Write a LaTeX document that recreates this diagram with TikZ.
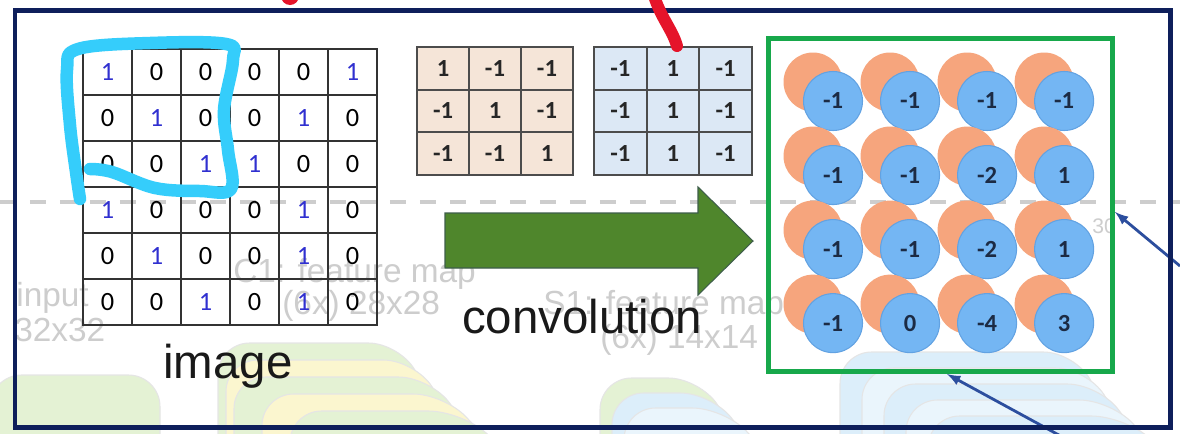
\documentclass[tikz,border=0pt]{standalone}
\usepackage{fontspec}
\setsansfont{Liberation Sans}
\newfontfamily\digitfont{Carlito}
\usetikzlibrary{positioning}

\definecolor{framenavy}{HTML}{0E1F5B}
\definecolor{boxgreen}{HTML}{17A84B}
\definecolor{onesblue}{HTML}{3030D0}
\definecolor{peach}{HTML}{F5E5D8}
\definecolor{icyblue}{HTML}{DCE8F5}
\definecolor{arrowgreen}{HTML}{4F862C}
\definecolor{arrowedge}{HTML}{3E5E4A}
\definecolor{dotblue}{HTML}{74B6F3}
\definecolor{dotedge}{HTML}{62A2E2}
\definecolor{dotorange}{HTML}{F6A57D}
\definecolor{digitnavy}{HTML}{1C2B44}
\definecolor{marker}{HTML}{35CDFB}
\definecolor{markred}{HTML}{E5142A}
\definecolor{linkblue}{HTML}{2C4E9E}
\definecolor{fadegray}{HTML}{CDCDCD}
\definecolor{layergreen}{HTML}{E4F2D4}
\definecolor{layeryellow}{HTML}{FBF6CF}
\definecolor{layerblue}{HTML}{DCEEFA}

\begin{document}
\begin{tikzpicture}[x=0.02cm, y=-0.02cm,
    cell/.style = {draw=black!80, line width=1.1pt, minimum width=0.98cm, minimum height=0.92cm,
        inner sep=0pt, outer sep=0pt, font=\digitfont\fontsize{15}{17}\selectfont},
    one/.style = {cell, text=onesblue},
    tapA/.style = {draw=black!70, line width=1.1pt, fill=peach, minimum width=1.04cm, minimum height=0.853cm,
        inner sep=0pt, outer sep=0pt, font=\digitfont\fontsize{14}{16}\selectfont\bfseries, text=black!85},
    tapB/.style = {tapA, fill=icyblue, minimum width=1.053cm},
    dot/.style = {circle, fill=dotblue, draw=dotedge, line width=0.6pt, minimum size=1.18cm, inner sep=0pt,
        font=\digitfont\fontsize{14}{16}\selectfont\bfseries, text=digitnavy,
        preaction={fill=dotorange, draw=none, transform canvas={shift={(-0.4cm,0.38cm)}}}},
    fade/.style = {text=fadegray, font=\sffamily\fontsize{19}{21}\selectfont, inner sep=0pt},
    word/.style = {font=\sffamily\fontsize{27}{30}\selectfont, text=black!90, inner sep=0pt},
    layer/.style = {draw=black!10, line width=0.6pt, rounded corners=18},
    link/.style = {-latex, draw=linkblue, line width=1.6pt}]

    \useasboundingbox[fill=white] (0,0) rectangle (1180,433);

    % faded network drawing in the background
    \filldraw[layer, fill=layergreen] (-10,470) -- (-10,375) -- (160,375) -- (160,470);
    \filldraw[layer, fill=layergreen] (218,470) -- (218,343) -- (400,343) -- (470,470);
    \filldraw[layer, fill=layeryellow] (226,470) -- (226,360) -- (415,360) -- (485,470);
    \filldraw[layer, fill=layergreen] (234,470) -- (234,377) -- (430,377) -- (500,470);
    \filldraw[layer, fill=layeryellow] (262,470) -- (262,394) -- (445,394) -- (515,470);
    \filldraw[layer, fill=layergreen] (290,470) -- (290,411) -- (460,411) -- (530,470);
    \filldraw[layer, fill=layergreen] (600,470) -- (600,378) -- (700,378) -- (760,470);
    \filldraw[layer, fill=layerblue] (612,470) -- (612,393) -- (712,393) -- (772,470);
    \filldraw[layer, fill=layerblue!60] (624,470) -- (624,408) -- (724,408) -- (784,470);
    \filldraw[layer, fill=layerblue] (840,470) -- (840,352) -- (1075,352) -- (1140,470);
    \filldraw[layer, fill=layerblue!60] (862,470) -- (862,368) -- (1087,368) -- (1152,470);
    \filldraw[layer, fill=layerblue] (884,470) -- (884,384) -- (1099,384) -- (1164,470);
    \filldraw[layer, fill=layerblue!60] (906,470) -- (906,400) -- (1111,400) -- (1176,470);
    \filldraw[layer, fill=layerblue] (928,470) -- (928,416) -- (1123,416) -- (1188,470);

    \node[fade, anchor=west] (t1) at (16,298) {input};
    \node[fade, anchor=west] (t2) at (14,330) {32x32};
    \node[fade, anchor=west] (t3) at (233,274) {C1: feature map};
    \node[fade, anchor=west] (t4) at (282,306) {(6x) 28x28};
    \node[fade, anchor=west] (t5) at (543,306) {S1: feature map};
    \node[fade, anchor=west] (t6) at (600,340) {(6x) 14x14};
    \node[fade, anchor=west, font=\sffamily\fontsize{12}{14}\selectfont] (t7) at (1092,226) {30};

    \draw[fadegray, line width=2.2pt, dash pattern=on 0.32cm off 0.28cm] (0,202) -- (1180,202);

    % input image
    \node[one] (i11) at (107.5,72) {1};
    \node[cell] (i12) [right=0pt of i11] {0};
    \node[cell] (i13) [right=0pt of i12] {0};
    \node[cell] (i14) [right=0pt of i13] {0};
    \node[cell] (i15) [right=0pt of i14] {0};
    \node[one] (i16) [right=0pt of i15] {1};

    \node[cell] (i21) [below=0pt of i11] {0};
    \node[one] (i22) [right=0pt of i21] {1};
    \node[cell] (i23) [right=0pt of i22] {0};
    \node[cell] (i24) [right=0pt of i23] {0};
    \node[one] (i25) [right=0pt of i24] {1};
    \node[cell] (i26) [right=0pt of i25] {0};

    \node[cell] (i31) [below=0pt of i21] {0};
    \node[cell] (i32) [right=0pt of i31] {0};
    \node[one] (i33) [right=0pt of i32] {1};
    \node[one] (i34) [right=0pt of i33] {1};
    \node[cell] (i35) [right=0pt of i34] {0};
    \node[cell] (i36) [right=0pt of i35] {0};

    \node[one] (i41) [below=0pt of i31] {1};
    \node[cell] (i42) [right=0pt of i41] {0};
    \node[cell] (i43) [right=0pt of i42] {0};
    \node[cell] (i44) [right=0pt of i43] {0};
    \node[one] (i45) [right=0pt of i44] {1};
    \node[cell] (i46) [right=0pt of i45] {0};

    \node[cell] (i51) [below=0pt of i41] {0};
    \node[one] (i52) [right=0pt of i51] {1};
    \node[cell] (i53) [right=0pt of i52] {0};
    \node[cell] (i54) [right=0pt of i53] {0};
    \node[one] (i55) [right=0pt of i54] {1};
    \node[cell] (i56) [right=0pt of i55] {0};

    \node[cell] (i61) [below=0pt of i51] {0};
    \node[cell] (i62) [right=0pt of i61] {0};
    \node[one] (i63) [right=0pt of i62] {1};
    \node[cell] (i64) [right=0pt of i63] {0};
    \node[one] (i65) [right=0pt of i64] {1};
    \node[cell] (i66) [right=0pt of i65] {0};

    \node[word, anchor=base] (img) at (228,378) {image};

    % the two filters
    \node[tapA] (a11) at (443,68.3) {1};
    \node[tapA] (a12) [right=0pt of a11] {-1};
    \node[tapA] (a13) [right=0pt of a12] {-1};
    \node[tapA] (a21) [below=0pt of a11] {-1};
    \node[tapA] (a22) [right=0pt of a21] {1};
    \node[tapA] (a23) [right=0pt of a22] {-1};
    \node[tapA] (a31) [below=0pt of a21] {-1};
    \node[tapA] (a32) [right=0pt of a31] {-1};
    \node[tapA] (a33) [right=0pt of a32] {1};

    \node[tapB] (b11) at (620.3,68.3) {-1};
    \node[tapB] (b12) [right=0pt of b11] {1};
    \node[tapB] (b13) [right=0pt of b12] {-1};
    \node[tapB] (b21) [below=0pt of b11] {-1};
    \node[tapB] (b22) [right=0pt of b21] {1};
    \node[tapB] (b23) [right=0pt of b22] {-1};
    \node[tapB] (b31) [below=0pt of b21] {-1};
    \node[tapB] (b32) [right=0pt of b31] {1};
    \node[tapB] (b33) [right=0pt of b32] {-1};

    % big arrow
    \filldraw[fill=arrowgreen, draw=arrowedge, line width=0.6pt]
        (445,213) -- (698,213) -- (698,187) -- (753,241) -- (698,295) -- (698,268) -- (445,268) -- cycle;
    \node[word, anchor=base] (conv) at (582,333) {convolution};

    % feature map
    \node[draw=boxgreen, line width=0.1cm, minimum width=6.9cm, minimum height=6.68cm, inner sep=0pt] (fmap) at (940.5,205) {};

    \node[dot] (c11) at (833,101) {-1};
    \node[dot] (c12) [right=0.34cm of c11] {-1};
    \node[dot] (c13) [right=0.34cm of c12] {-1};
    \node[dot] (c14) [right=0.34cm of c13] {-1};
    \node[dot] (c21) [below=0.28cm of c11] {-1};
    \node[dot] (c22) [right=0.34cm of c21] {-1};
    \node[dot] (c23) [right=0.34cm of c22] {-2};
    \node[dot] (c24) [right=0.34cm of c23] {1};
    \node[dot] (c31) [below=0.28cm of c21] {-1};
    \node[dot] (c32) [right=0.34cm of c31] {-1};
    \node[dot] (c33) [right=0.34cm of c32] {-2};
    \node[dot] (c34) [right=0.34cm of c33] {1};
    \node[dot] (c41) [below=0.28cm of c31] {-1};
    \node[dot] (c42) [right=0.34cm of c41] {0};
    \node[dot] (c43) [right=0.34cm of c42] {-4};
    \node[dot] (c44) [right=0.34cm of c43] {3};

    \coordinate (fmapE) at (1115,212);
    \coordinate (fmapS) at (947,374);
    \coordinate (outE) at (1180,266);
    \coordinate (outS) at (1068,440);
    \draw[link] (outE) -- (fmapE);
    \draw[link] (outS) -- (fmapS);

    \draw[framenavy, line width=0.1cm] (15,10) rectangle (1170,427);

    % hand marks
    \draw[marker, line width=0.25cm, line cap=round, line join=round] plot[smooth, tension=0.6] coordinates
        {(90,169) (112,172) (155,188) (200,191) (231,189) (228,150) (224,110) (233,60) (226,44) (150,43) (78,49) (67,70) (70,125) (76,172) (80,199)};
    \draw[markred, line width=0.24cm, line cap=round] (652,-12) .. controls (658,15) and (672,28) .. (677,46);
    \fill[markred] (290,-4) circle (9);
\end{tikzpicture}
\end{document}
